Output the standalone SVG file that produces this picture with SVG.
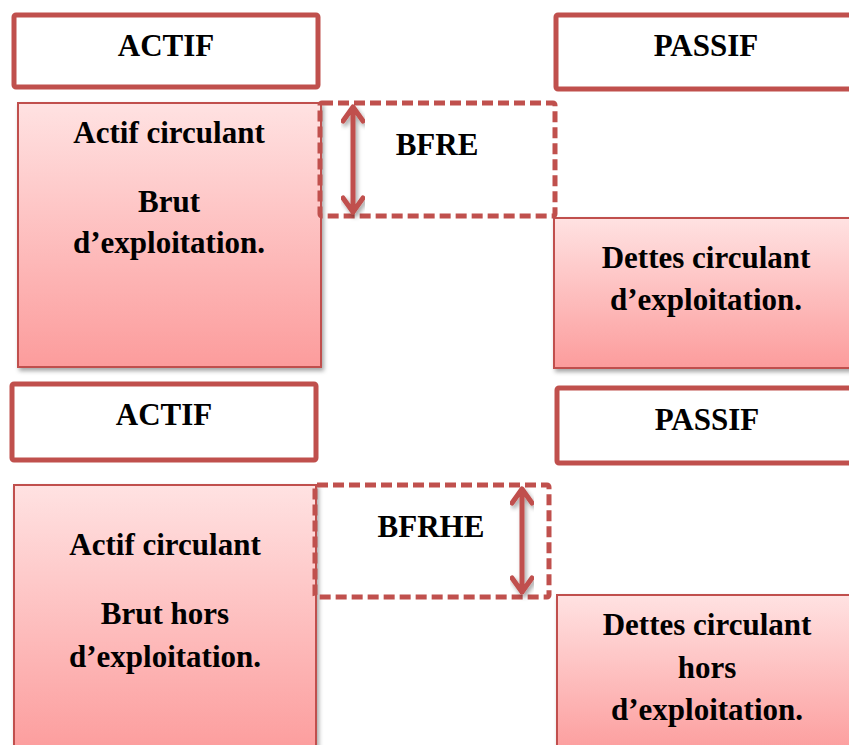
<svg xmlns="http://www.w3.org/2000/svg" width="849" height="745" viewBox="0 0 849 745">
  <style>
    .hdr { fill: #ffffff; stroke: #C0504D; stroke-width: 5; }
    .blk { fill: url(#pinkFill); stroke: #C0504D; stroke-width: 2; filter: url(#shadow); }
    .gap { fill: none; stroke: #C0504D; stroke-width: 5; stroke-dasharray: 11 5; }
    .arr { fill: none; stroke: #C0504D; stroke-width: 5; stroke-linecap: round; stroke-linejoin: round; filter: url(#shadow); }
    text { font-family: "Liberation Serif", "Times New Roman", serif; font-weight: bold; font-size: 31px; fill: #000; text-anchor: middle; }
  </style>
  <defs>
    <linearGradient id="pinkFill" x1="0" y1="0" x2="0" y2="1">
      <stop offset="0" stop-color="#FFE2E2"/>
      <stop offset="1" stop-color="#FC9C9C"/>
    </linearGradient>
    <filter id="shadow" x="-10%" y="-10%" width="120%" height="120%">
      <feDropShadow dx="2" dy="3" stdDeviation="2" flood-color="#000" flood-opacity="0.35"/>
    </filter>
  </defs>

  <!-- first balance: exploitation -->
  <g id="actif-top">
    <rect class="hdr" x="14" y="15" width="304" height="72" rx="2"/>
    <text x="166" y="56">ACTIF</text>
  </g>
  <g id="passif-top">
    <rect class="hdr" x="556" y="15" width="300" height="74" rx="2"/>
    <text x="706" y="56">PASSIF</text>
  </g>
  <g id="actif-circulant-expl">
    <rect class="blk" x="18" y="103" width="303" height="264"/>
    <text x="169" y="143">Actif circulant</text>
    <text x="169" y="212">Brut</text>
    <text x="169" y="253">d’exploitation.</text>
  </g>
  <g id="bfre">
    <rect class="gap" x="320" y="103" width="235" height="113" rx="2"/>
    <text x="437" y="155">BFRE</text>
  </g>
  <g id="dettes-expl">
    <rect class="blk" x="554" y="218" width="300" height="150"/>
    <text x="706" y="268">Dettes circulant</text>
    <text x="706" y="310">d’exploitation.</text>
  </g>

  <!-- second balance: hors exploitation -->
  <g id="actif-bottom">
    <rect class="hdr" x="12" y="384" width="304" height="76" rx="2"/>
    <text x="164" y="425">ACTIF</text>
  </g>
  <g id="passif-bottom">
    <rect class="hdr" x="557" y="388" width="300" height="75" rx="2"/>
    <text x="707" y="430">PASSIF</text>
  </g>
  <g id="actif-circulant-hors">
    <rect class="blk" x="14" y="485" width="302" height="270"/>
    <text x="165" y="555">Actif circulant</text>
    <text x="165" y="624">Brut hors</text>
    <text x="165" y="667">d’exploitation.</text>
  </g>
  <g id="bfrhe">
    <rect class="gap" x="315" y="485" width="234" height="112" rx="2"/>
    <text x="431" y="537">BFRHE</text>
  </g>
  <g id="dettes-hors">
    <rect class="blk" x="557" y="595" width="300" height="160"/>
    <text x="707" y="635">Dettes circulant</text>
    <text x="707" y="678">hors</text>
    <text x="707" y="720">d’exploitation.</text>
  </g>

  <!-- double-headed arrows measuring each gap -->
  <g id="connectors">
    <path class="arr" d="M353 107 V212 M343 121 L353 107 L363 121 M343 198 L353 212 L363 198"/>
    <path class="arr" d="M522 489 V592 M512 503 L522 489 L532 503 M512 578 L522 592 L532 578"/>
  </g>
</svg>
